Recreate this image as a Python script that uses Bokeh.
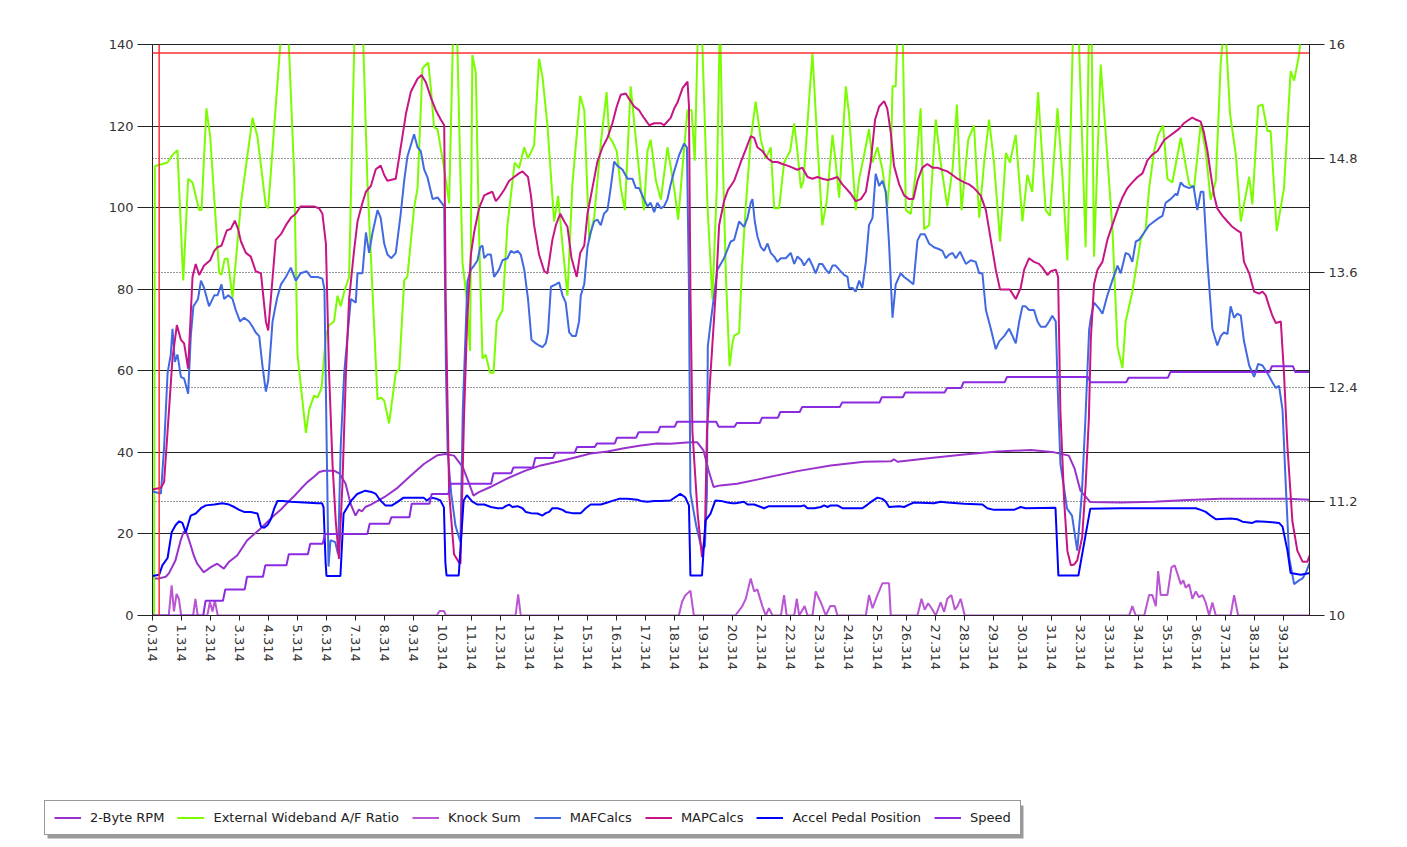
import math
from bokeh.plotting import figure
from bokeh.models import (Range1d, LinearAxis, FixedTicker, Grid, Span, Legend,
                          LegendItem, PrintfTickFormatter)
from bokeh.layouts import column
from bokeh.embed import file_html
from bokeh.resources import INLINE

# ---------------- data (time offset from first sample, value) ----------------
T0 = 0.314  # time of first log sample (s)

series_names = ["2-Byte RPM", "External Wideband A/F Ratio", "Knock Sum", "MAFCalcs",
                "MAPCalcs", "Accel Pedal Position", "Speed"]
series_colors = ["#9932CC", "#7CFC00", "#BA55D3", "#4169E1", "#C71585", "#0000FF", "#8A2BE2"]

left_ticks = [0, 20, 40, 60, 80, 100, 120, 140]
right_ticks = [10, 11.2, 12.4, 13.6, 14.8, 16]
right_labels = ["10", "11.2", "12.4", "13.6", "14.8", "16"]

rpm = [(0.00,9.1),(0.23,9.1),(0.46,9.5),(0.57,10.4),(0.79,13.5),(0.97,18.4),(1.08,20.6),(1.18,20.2),
       (1.30,17.6),(1.42,14.8),(1.54,12.7),(1.77,10.6),(2.00,11.8),(2.23,12.7),(2.46,11.5),(2.63,13.1),
       (2.92,14.7),(3.26,18.4),(3.45,19.6),(3.74,21.4),(3.97,23.0),(4.20,24.6),(4.43,26.0),(4.66,27.7),
       (4.89,29.3),(5.11,31.0),(5.34,32.7),(5.57,34.0),(5.75,35.2),(5.92,35.5),(6.26,35.5),(6.45,34.8),
       (6.66,32.3),(6.83,27.4),(7.00,24.5),(7.12,26.0),(7.22,25.5),(7.34,26.6),(7.53,27.2),(7.99,29.0),
       (8.45,31.3),(8.91,34.3),(9.37,37.2),(9.83,39.3),(10.10,39.6),(10.40,39.2),(10.70,36.4),(10.90,32.7),
       (11.07,29.4),(11.24,30.2),(11.65,31.5),(12.24,33.6),(12.82,35.4),(13.39,36.8),(13.97,37.7),
       (14.54,38.7),(15.11,39.7),(15.69,40.2),(16.26,41.0),(16.84,41.7),(17.41,42.2),(17.86,42.1),
       (18.20,42.3),(18.55,42.5),(18.78,42.5),(19.00,40.5),(19.18,35.5),(19.35,31.5),(19.58,31.9),
       (20.16,32.3),(20.97,33.5),(22.24,35.4),(23.39,36.8),(24.54,37.7),(25.46,37.8),(25.57,38.3),
       (25.69,37.7),(26.84,38.6),(27.99,39.5),(29.14,40.2),(30.29,40.6),(31.10,40.0),(31.60,39.2),
       (31.80,36.0),(32.00,30.6),(32.34,27.8),(33.39,27.7),(34.54,27.9),(35.69,28.3),(36.84,28.6),
       (37.99,28.6),(39.14,28.6),(39.92,28.4)]

afr = [(0.00,0.0),(0.08,14.72),(0.52,14.76),(0.69,14.84),(0.86,14.89),(1.06,13.52),(1.23,14.59),(1.38,14.55),
       (1.61,14.26),(1.69,14.26),(1.86,15.33),(1.99,15.03),(2.30,13.60),(2.38,13.58),(2.49,13.75),(2.59,13.75),
       (2.76,13.34),(3.05,14.33),(3.45,15.23),(3.62,15.03),(3.91,14.30),(3.99,14.28),(4.48,16.30),(4.66,16.30),
       (4.89,14.61),(5.00,12.74),(5.29,11.92),(5.40,12.16),(5.57,12.31),(5.69,12.29),(5.83,12.39),(5.98,12.94),
       (6.09,13.05),(6.26,13.09),(6.38,13.36),(6.49,13.25),(6.61,13.40),(6.78,13.56),(6.98,16.30),(7.24,16.30),
       (7.41,14.57),(7.76,12.27),(7.87,12.29),(7.99,12.26),(8.16,12.02),(8.39,12.55),(8.51,12.59),(8.68,13.52),
       (8.79,13.56),(9.02,14.28),(9.14,14.49),(9.31,15.75),(9.51,15.81),(9.60,15.54),(9.71,15.13),(9.83,15.11),
       (10.06,14.69),(10.23,14.33),(10.38,16.30),(10.49,16.30),(10.69,13.71),(10.84,13.32),(10.95,12.78),
       (11.03,15.89),(11.15,15.70),(11.26,14.02),(11.38,12.70),(11.49,12.74),(11.64,12.55),(11.76,12.55),
       (11.87,13.09),(12.07,13.21),(12.24,14.10),(12.49,14.76),(12.64,14.70),(12.82,14.92),(12.95,14.80),
       (13.16,14.94),(13.33,15.85),(13.45,15.66),(13.62,15.15),(13.85,14.14),(13.99,14.41),(14.10,14.02),
       (14.31,13.36),(14.48,14.53),(14.75,15.46),(14.89,15.31),(15.06,13.95),(15.23,14.18),(15.46,14.96),
       (15.66,15.50),(15.75,15.03),(15.86,14.98),(16.01,14.88),(16.15,14.49),(16.29,14.26),(16.49,15.56),
       (16.67,15.00),(16.84,14.49),(16.95,14.26),(17.07,14.88),(17.18,15.00),(17.36,14.57),(17.53,14.37),
       (17.76,14.92),(17.99,14.49),(18.13,14.16),(18.28,14.72),(18.45,15.31),(18.59,15.31),(18.70,14.78),
       (18.82,16.30),(18.93,16.30),(19.14,14.30),(19.31,13.32),(19.46,14.49),(19.57,16.30),(19.66,14.88),
       (19.78,13.52),(19.90,12.62),(20.00,12.86),(20.06,12.94),(20.23,12.97),(20.34,13.71),(20.46,14.30),
       (20.63,15.00),(20.80,15.40),(20.98,15.00),(21.15,14.80),(21.32,14.92),(21.44,14.28),(21.61,14.28),
       (21.78,14.76),(21.99,14.88),(22.13,15.17),(22.24,14.88),(22.36,14.49),(22.45,14.57),(22.61,15.27),
       (22.76,15.91),(22.91,15.07),(23.10,14.10),(23.25,14.35),(23.45,15.05),(23.56,14.76),(23.68,14.39),
       (23.91,15.56),(24.02,15.27),(24.25,14.26),(24.37,14.59),(24.54,14.84),(24.71,15.11),(24.83,14.76),
       (25.00,14.92),(25.17,14.69),(25.34,14.30),(25.46,14.76),(25.52,15.56),(25.63,15.56),(25.71,16.30),
       (25.86,16.30),(25.98,14.26),(26.15,14.22),(26.32,14.65),(26.49,15.33),(26.61,14.06),(26.78,14.10),
       (27.01,15.21),(27.18,14.76),(27.41,14.30),(27.59,14.69),(27.74,15.37),(27.90,14.26),(28.13,15.00),
       (28.33,15.15),(28.51,14.18),(28.68,14.76),(28.85,15.21),(29.02,14.76),(29.23,13.93),(29.43,14.86),
       (29.57,14.76),(29.77,15.05),(30.00,14.14),(30.17,14.63),(30.34,14.45),(30.54,15.50),(30.80,14.26),
       (30.95,14.20),(31.21,15.33),(31.38,14.61),(31.55,13.73),(31.76,16.30),(31.92,16.30),(32.18,13.87),
       (32.30,16.30),(32.38,16.30),(32.47,13.77),(32.70,15.79),(32.87,15.07),(33.10,14.08),(33.28,12.82),
       (33.45,12.60),(33.56,13.09),(33.79,13.40),(34.08,13.95),(34.25,14.06),(34.37,14.49),(34.54,14.88),
       (34.68,15.05),(34.85,15.15),(35.00,14.59),(35.17,14.55),(35.46,15.02),(35.75,14.53),(35.92,14.49),
       (36.15,15.17),(36.32,14.88),(36.49,14.37),(36.67,14.57),(36.84,15.81),(36.98,16.30),(37.16,15.27),
       (37.36,14.84),(37.53,14.14),(37.82,14.61),(37.93,14.32),(38.13,15.35),(38.28,15.37),(38.45,15.09),
       (38.56,15.09),(38.77,14.04),(39.02,14.49),(39.25,15.72),(39.37,15.62),(39.54,15.89),(39.66,16.30),
       (39.90,16.60)]

knock = [(0.00,0),(0.56,0),(0.66,7.4),(0.74,1.0),(0.83,5.3),(0.91,4.1),(0.99,0),(1.40,0),(1.48,4.1),(1.56,0),
         (1.89,0),(1.98,3.3),(2.07,1.0),(2.15,3.7),(2.25,0),(9.80,0),(9.90,1.1),(10.05,1.1),(10.12,0),
         (12.52,0),(12.61,5.2),(12.70,0),(18.15,0),(18.26,3.3),(18.37,4.9),(18.55,6.1),(18.67,0),(20.10,0),
         (20.27,1.6),(20.34,2.3),(20.46,4.1),(20.63,9.1),(20.75,5.9),(20.86,6.4),(21.03,2.3),(21.15,0),
         (21.26,1.8),(21.38,0),(21.67,0),(21.78,5.0),(21.87,0),(22.13,0),(22.22,4.1),(22.30,0),(22.49,2.3),
         (22.59,0),(22.76,0),(22.87,5.9),(23.05,3.2),(23.22,0),(23.37,2.3),(23.53,2.3),(23.62,0),(24.60,0),
         (24.71,5.0),(24.83,1.8),(25.00,5.0),(25.17,7.9),(25.40,7.9),(25.46,0),(26.38,0),(26.52,4.1),
         (26.63,1.4),(26.75,3.0),(26.90,1.4),(27.01,0),(27.18,3.2),(27.30,0.9),(27.41,4.1),(27.55,5.0),
         (27.67,1.4),(27.76,2.3),(27.87,4.1),(28.01,0),(33.68,0),(33.79,2.3),(33.91,0),(34.20,0),(34.37,5.0),
         (34.48,5.0),(34.60,2.3),(34.68,10.9),(34.77,5.0),(35.00,5.0),(35.14,11.8),(35.25,12.3),(35.34,10.4),
         (35.46,7.7),(35.55,8.6),(35.63,6.8),(35.75,7.7),(35.86,4.1),(35.98,5.9),(36.09,4.5),(36.21,5.0),
         (36.32,3.2),(36.44,0),(36.55,3.2),(36.67,0),(37.18,0),(37.30,5.0),(37.44,0),(39.92,0)]

maf = [(0.00,30.4),(0.29,29.9),(0.40,41.3),(0.52,59.4),(0.63,64.0),(0.69,70.3),(0.77,62.2),(0.86,64.0),
       (0.98,58.5),(1.09,58.1),(1.23,54.4),(1.32,68.5),(1.41,75.8),(1.49,76.7),(1.57,77.6),(1.67,82.1),
       (1.78,80.3),(1.95,75.8),(2.13,78.5),(2.24,78.5),(2.38,81.2),(2.47,77.6),(2.61,78.5),(2.76,77.6),
       (2.87,74.9),(3.02,72.1),(3.16,73.0),(3.33,72.1),(3.45,70.8),(3.56,69.4),(3.68,68.5),(3.79,61.3),
       (3.91,54.9),(3.99,57.6),(4.14,72.1),(4.29,77.6),(4.43,81.2),(4.60,83.0),(4.77,85.3),(4.94,82.1),
       (5.11,83.9),(5.32,84.4),(5.46,83.0),(5.69,83.0),(5.86,82.6),(5.93,80.0),(6.00,45.0),(6.07,12.0),
       (6.14,18.5),(6.30,18.0),(6.40,15.0),(6.49,41.3),(6.61,59.4),(6.84,77.6),(7.01,76.7),(7.07,83.9),
       (7.24,83.9),(7.36,93.9),(7.47,88.9),(7.59,93.9),(7.76,99.4),(7.87,97.5),(7.99,91.2),(8.10,88.5),
       (8.24,87.6),(8.39,88.9),(8.56,98.5),(8.68,106.6),(8.79,112.5),(9.02,118.0),(9.14,114.8),(9.25,113.9),
       (9.37,109.3),(9.48,107.5),(9.66,102.1),(9.83,102.5),(10.06,100.3),(10.12,60.0),(10.18,40.0),
       (10.30,30.0),(10.45,22.0),(10.55,19.6),(10.62,18.0),(10.70,50.0),(10.86,81.9),(10.98,84.8),
       (11.09,85.8),(11.21,87.1),(11.30,90.3),(11.38,90.7),(11.44,87.6),(11.55,88.5),(11.67,88.5),
       (11.78,83.0),(11.95,84.8),(12.07,87.1),(12.24,87.6),(12.36,89.4),(12.47,88.9),(12.59,89.4),
       (12.70,88.5),(12.82,84.8),(12.95,77.6),(13.07,67.6),(13.22,66.7),(13.33,66.2),(13.45,65.8),
       (13.56,66.7),(13.64,69.4),(13.74,80.6),(13.91,81.2),(14.02,81.7),(14.14,78.5),(14.25,76.7),
       (14.37,69.4),(14.48,68.5),(14.60,68.5),(14.71,72.1),(14.77,78.5),(14.89,81.2),(15.00,90.3),
       (15.11,93.9),(15.23,96.6),(15.34,97.1),(15.46,95.7),(15.57,98.5),(15.69,99.4),(15.80,104.8),
       (15.92,111.3),(16.03,110.3),(16.21,109.3),(16.38,107.1),(16.55,107.1),(16.67,104.8),(16.78,104.8),
       (16.95,102.1),(17.07,100.3),(17.18,101.2),(17.30,98.9),(17.41,101.2),(17.53,99.8),(17.64,100.3),
       (17.76,102.1),(17.87,105.7),(17.99,108.9),(18.16,112.9),(18.33,115.7),(18.43,114.8),(18.50,80.0),
       (18.55,30.0),(18.75,22.0),(18.95,16.0),(19.05,17.0),(19.12,30.0),(19.15,66.0),(19.25,72.0),
       (19.48,84.8),(19.71,87.6),(19.94,91.7),(20.06,92.1),(20.23,96.6),(20.40,95.3),(20.52,97.5),
       (20.63,101.2),(20.69,102.1),(20.77,96.6),(20.86,93.0),(20.98,90.3),(21.09,89.4),(21.21,91.2),
       (21.32,88.9),(21.44,88.0),(21.55,86.7),(21.67,87.6),(21.84,87.6),(22.01,88.9),(22.13,86.2),
       (22.24,88.0),(22.38,87.1),(22.47,85.8),(22.64,87.6),(22.76,85.8),(22.87,83.9),(22.99,86.2),
       (23.10,86.2),(23.22,84.8),(23.33,83.9),(23.45,85.8),(23.56,85.8),(23.68,84.8),(23.85,83.5),
       (23.97,83.0),(24.02,80.3),(24.14,80.3),(24.25,79.4),(24.37,82.1),(24.48,80.3),(24.60,86.7),
       (24.71,95.7),(24.83,97.5),(24.94,108.3),(25.06,105.3),(25.17,106.6),(25.29,103.9),(25.40,91.2),
       (25.52,73.0),(25.63,81.2),(25.80,83.9),(25.92,83.0),(26.09,82.1),(26.24,81.2),(26.38,91.9),
       (26.49,93.5),(26.63,93.5),(26.78,91.2),(26.95,90.3),(27.13,89.8),(27.24,89.4),(27.36,87.6),
       (27.47,88.5),(27.59,88.9),(27.70,87.6),(27.85,89.2),(27.93,88.0),(28.05,86.2),(28.22,87.1),
       (28.39,86.7),(28.51,83.9),(28.62,83.9),(28.74,74.9),(28.91,70.3),(29.08,65.3),(29.20,67.2),
       (29.37,68.5),(29.54,70.3),(29.66,68.5),(29.77,66.7),(29.89,72.1),(30.00,75.8),(30.11,75.8),
       (30.23,74.9),(30.40,74.9),(30.52,72.1),(30.63,70.8),(30.80,70.8),(30.92,72.1),(31.03,73.5),
       (31.15,72.1),(31.22,55.0),(31.31,37.2),(31.54,26.2),(31.71,24.5),(31.89,15.9),(32.05,30.0),
       (32.17,47.8),(32.30,70.0),(32.36,73.0),(32.47,76.7),(32.64,75.3),(32.76,74.0),(32.93,78.5),
       (33.10,82.1),(33.28,85.8),(33.39,83.9),(33.56,88.9),(33.68,88.5),(33.79,86.7),(33.91,91.7),
       (34.02,92.1),(34.20,93.9),(34.37,95.7),(34.54,96.6),(34.71,97.5),(34.83,98.0),(34.94,101.2),
       (35.11,102.1),(35.29,103.4),(35.34,103.0),(35.46,106.2),(35.57,105.3),(35.75,104.8),(35.90,105.3),
       (36.03,99.4),(36.15,103.9),(36.24,103.9),(36.38,86.7),(36.55,70.3),(36.72,66.2),(36.84,68.5),
       (36.95,69.4),(37.07,69.0),(37.18,75.8),(37.30,73.0),(37.41,74.0),(37.53,73.5),(37.64,67.3),
       (37.82,61.3),(37.99,58.5),(38.13,61.7),(38.28,61.3),(38.45,59.4),(38.62,57.2),(38.74,55.8),
       (38.85,56.3),(38.97,50.4),(39.08,32.2),(39.20,14.1),(39.37,7.7),(39.54,8.6),(39.66,9.1),
       (39.77,10.4),(39.92,13.2)]

map_kpa = [(0.00,30.9),(0.29,31.3),(0.40,32.7),(0.57,50.4),(0.69,63.1),(0.84,71.2),(0.98,67.6),(1.09,66.7),
       (1.23,60.5),(1.38,83.0),(1.49,86.2),(1.61,83.5),(1.78,85.8),(1.99,87.1),(2.13,89.4),(2.24,90.3),
       (2.38,90.7),(2.56,94.4),(2.70,94.8),(2.84,96.8),(2.95,94.8),(3.05,91.7),(3.22,88.9),(3.39,88.0),
       (3.56,84.4),(3.74,83.9),(3.91,72.1),(3.99,69.9),(4.25,92.1),(4.43,93.5),(4.60,95.7),(4.77,97.5),
       (4.94,98.5),(5.11,100.3),(5.34,100.3),(5.57,100.3),(5.75,99.8),(5.86,98.5),(5.98,91.2),(6.09,59.4),
       (6.21,36.8),(6.32,23.1),(6.43,13.9),(6.55,32.2),(6.67,59.4),(6.78,77.6),(6.95,89.4),(7.07,96.6),
       (7.24,101.2),(7.36,103.9),(7.53,105.3),(7.70,109.4),(7.87,110.3),(7.99,108.0),(8.10,106.6),
       (8.39,107.1),(8.56,114.8),(8.74,123.0),(8.91,128.4),(9.14,131.6),(9.28,132.5),(9.43,130.7),
       (9.60,127.0),(9.77,123.9),(9.94,121.6),(10.06,120.2),(10.11,77.6),(10.23,30.0),(10.40,15.0),
       (10.57,13.0),(10.62,12.7),(10.74,47.8),(10.85,72.0),(10.98,88.5),(11.09,93.9),(11.26,99.8),
       (11.44,103.0),(11.55,103.4),(11.72,103.9),(11.84,101.6),(11.95,102.5),(12.13,104.4),(12.30,106.6),
       (12.47,107.5),(12.64,108.4),(12.76,108.9),(12.95,107.5),(13.05,103.0),(13.16,95.7),(13.33,88.5),
       (13.51,84.4),(13.62,83.9),(13.79,92.1),(13.91,95.7),(14.06,98.5),(14.20,96.6),(14.31,95.3),
       (14.45,87.6),(14.63,83.0),(14.75,88.9),(14.89,90.7),(15.00,98.5),(15.17,104.8),(15.34,111.2),
       (15.52,114.8),(15.69,117.1),(15.86,120.7),(16.01,124.8),(16.15,127.7),(16.32,128.0),(16.44,126.6),
       (16.61,124.8),(16.78,123.9),(16.95,122.0),(17.13,120.2),(17.30,120.7),(17.53,120.7),(17.64,120.2),
       (17.87,122.0),(17.99,124.3),(18.10,125.7),(18.28,129.3),(18.45,130.9),(18.50,125.0),(18.55,80.0),
       (18.62,45.0),(18.80,25.0),(18.95,14.3),(19.05,20.0),(19.12,45.0),(19.25,60.0),(19.43,80.0),
       (19.54,95.7),(19.71,101.6),(19.85,104.4),(19.94,105.3),(20.06,106.6),(20.29,111.2),(20.46,114.3),
       (20.63,117.5),(20.75,117.1),(20.86,114.8),(21.03,113.9),(21.21,112.1),(21.38,111.2),(21.55,111.2),
       (21.72,110.7),(21.90,110.3),(22.07,109.8),(22.24,109.3),(22.41,109.8),(22.59,107.5),(22.76,107.1),
       (22.93,107.5),(23.10,107.1),(23.28,106.8),(23.45,107.1),(23.62,107.5),(23.79,105.7),(23.91,104.8),
       (24.08,103.4),(24.25,101.6),(24.43,102.1),(24.60,103.9),(24.77,111.2),(24.92,121.6),(25.06,124.8),
       (25.23,126.1),(25.34,124.3),(25.46,118.4),(25.57,110.3),(25.75,105.7),(25.92,103.0),(26.09,102.1),
       (26.24,102.1),(26.38,106.6),(26.55,109.8),(26.72,110.7),(26.90,109.8),(27.07,109.8),(27.24,109.3),
       (27.41,108.9),(27.59,108.0),(27.76,107.1),(27.99,106.2),(28.16,105.7),(28.33,104.8),(28.56,103.0),
       (28.74,99.4),(28.91,92.1),(29.08,84.8),(29.23,79.9),(29.37,79.9),(29.57,79.9),(29.77,77.6),
       (29.94,80.3),(30.06,84.8),(30.23,87.6),(30.40,86.7),(30.57,86.2),(30.69,85.3),(30.86,83.5),
       (30.98,84.4),(31.15,84.8),(31.23,83.0),(31.31,50.0),(31.44,28.0),(31.55,15.9),(31.67,12.3),
       (31.78,12.5),(31.89,13.5),(32.06,19.2),(32.18,32.0),(32.29,48.0),(32.36,68.0),(32.47,81.2),
       (32.59,84.8),(32.76,86.7),(32.93,92.1),(33.10,95.7),(33.28,99.4),(33.45,102.5),(33.62,104.8),
       (33.79,106.2),(33.97,107.5),(34.14,108.4),(34.31,111.6),(34.48,113.0),(34.66,113.9),(34.77,115.2),
       (34.89,116.6),(35.06,117.5),(35.23,118.4),(35.40,119.3),(35.57,120.7),(35.75,121.6),(35.86,122.1),
       (35.98,121.6),(36.15,121.1),(36.26,118.4),(36.38,113.9),(36.49,108.4),(36.61,103.0),(36.72,99.8),
       (36.90,98.0),(37.07,96.6),(37.24,95.3),(37.41,94.4),(37.53,93.9),(37.64,86.7),(37.82,83.9),
       (37.99,79.4),(38.16,78.9),(38.28,79.4),(38.39,78.5),(38.51,75.8),(38.62,73.5),(38.74,71.7),
       (38.91,72.1),(39.02,59.4),(39.14,41.3),(39.31,23.1),(39.48,15.9),(39.66,13.2),(39.83,13.2),
       (39.92,15.0)]

accel = [(0.00,9.7),(0.23,10.0),(0.34,12.3),(0.52,14.1),(0.66,20.4),(0.80,22.2),(0.92,23.1),(1.03,22.7),
         (1.15,20.4),(1.26,23.1),(1.32,24.5),(1.49,25.0),(1.67,26.3),(1.84,27.0),(2.13,27.2),(2.41,27.5),
         (2.64,27.2),(2.82,26.6),(2.99,25.9),(3.16,25.4),(3.39,25.4),(3.62,25.0),(3.74,21.8),(3.85,21.5),
         (3.97,22.2),(4.08,23.6),(4.20,26.3),(4.31,28.1),(4.48,28.1),(4.77,27.9),(5.23,27.7),(5.69,27.5),
         (5.85,27.5),(5.90,26.5),(5.97,13.0),(6.00,9.7),(6.48,9.7),(6.59,25.0),(6.70,26.3),(6.86,28.2),
         (7.06,29.8),(7.34,30.6),(7.55,30.3),(7.70,29.8),(7.86,28.2),(8.03,27.0),(8.26,27.0),(8.44,27.8),
         (8.66,28.9),(9.35,28.9),(9.46,28.2),(9.60,28.9),(9.80,28.6),(9.93,28.2),(10.05,26.5),(10.10,13.0),
         (10.14,9.8),(10.56,9.8),(10.73,28.2),(10.84,29.5),(11.03,27.9),(11.21,27.2),(11.44,27.2),
         (11.67,26.6),(11.90,26.3),(12.07,26.3),(12.18,26.8),(12.30,27.2),(12.41,26.6),(12.59,26.8),
         (12.76,26.3),(12.87,25.4),(13.05,25.1),(13.28,25.0),(13.45,24.5),(13.56,25.1),(13.68,25.4),
         (13.79,26.3),(13.97,26.3),(14.14,25.9),(14.25,25.4),(14.48,25.1),(14.77,25.1),(14.94,26.3),
         (15.11,27.2),(15.46,27.2),(15.69,27.7),(15.86,28.1),(16.09,28.6),(16.38,28.6),(16.72,28.4),
         (16.84,28.1),(17.07,27.9),(17.30,28.1),(17.53,28.1),(17.86,28.2),(18.20,29.8),(18.37,29.0),
         (18.50,27.0),(18.55,9.8),(18.95,9.8),(19.07,23.3),(19.24,24.9),(19.41,28.2),(19.60,28.1),
         (19.83,27.7),(20.00,27.5),(20.11,27.5),(20.40,27.9),(20.52,27.2),(20.75,27.2),(20.98,26.6),
         (21.09,26.3),(21.26,26.8),(21.84,26.8),(22.36,26.8),(22.47,27.0),(22.59,26.3),(22.82,26.3),
         (23.05,26.6),(23.16,27.0),(23.28,26.6),(23.39,27.0),(23.62,27.0),(23.79,26.3),(24.48,26.3),
         (24.66,27.2),(24.83,28.1),(25.00,28.9),(25.17,28.6),(25.29,27.9),(25.40,26.6),(25.75,26.8),
         (25.92,26.6),(26.09,27.2),(26.26,27.7),(26.95,27.5),(27.18,27.9),(27.41,27.7),(27.99,27.4),
         (28.62,27.2),(28.79,26.3),(29.02,25.9),(29.71,25.9),(29.94,26.6),(30.11,26.3),(31.14,26.4),
         (31.24,9.8),(31.93,9.8),(32.34,26.2),(33.39,26.3),(35.98,26.3),(36.15,25.9),(36.32,25.4),
         (36.49,24.5),(36.67,23.6),(37.18,23.8),(37.41,23.6),(37.59,23.0),(37.93,22.7),(38.05,23.1),
         (38.39,23.0),(38.85,22.7),(38.97,21.8),(39.14,15.9),(39.25,10.4),(39.60,10.0),(39.92,10.4)]

speed = [(0.00,0),(1.75,0),(1.83,3.6),(2.43,3.6),(2.51,6.4),(3.18,6.4),(3.26,9.5),(3.81,9.5),(3.89,12.3),
         (4.62,12.3),(4.70,15.0),(5.36,15.0),(5.44,17.6),(5.87,17.6),(5.95,20.0),(7.41,20.0),(7.49,22.5),
         (8.16,22.5),(8.24,24.1),(8.86,24.1),(8.94,27.4),(9.55,27.4),(9.63,29.8),(10.20,29.8),(10.28,32.3),
         (11.68,32.3),(11.76,34.9),(12.37,34.9),(12.45,36.3),(13.12,36.3),(13.20,38.6),(13.81,38.6),
         (13.89,39.9),(14.56,39.9),(14.64,41.3),(15.25,41.3),(15.33,42.2),(15.94,42.2),(16.02,43.6),
         (16.68,43.6),(16.76,44.9),(17.43,44.9),(17.51,46.3),(18.01,46.3),(18.09,47.5),(19.44,47.5),
         (19.52,46.3),(20.07,46.3),(20.15,47.2),(20.94,47.2),(21.02,48.5),(21.57,48.5),(21.65,49.9),
         (22.32,49.9),(22.40,51.1),(23.70,51.1),(23.78,52.2),(25.07,52.2),(25.15,53.5),(25.88,53.5),
         (25.96,54.7),(27.32,54.7),(27.40,55.8),(27.89,55.8),(27.97,57.2),(29.39,57.2),(29.47,58.5),
         (32.26,58.5),(32.34,57.2),(33.58,57.2),(33.66,58.3),(35.02,58.3),(35.10,59.7),(38.52,59.7),
         (38.60,61.1),(39.33,61.1),(39.41,59.7),(39.92,59.7)]

cursor_time = 0.23 + T0     # red cursor line
alarm_level = 137.9         # red limit line (left axis units)

series_data = [rpm, afr, knock, maf, map_kpa, accel, speed]
series_axis = ["default", "af", "default", "default", "default", "default", "default"]

FONT = "DejaVu Sans"

# ---------------- chart ----------------
p = figure(width=1400, height=680, x_range=Range1d(T0, T0 + 39.9), y_range=Range1d(0, 140),
           toolbar_location=None, output_backend="svg",
           min_border_left=152, min_border_right=91, min_border_top=44, min_border_bottom=65)
p.extra_y_ranges = {"af": Range1d(10, 16)}
p.background_fill_color = "white"
p.border_fill_color = "white"
p.outline_line_color = "#222222"
p.outline_line_width = 1

xa = p.xaxis[0]
xa.ticker = FixedTicker(ticks=[T0 + k for k in range(40)])
xa.formatter = PrintfTickFormatter(format="%.3f")
xa.major_label_orientation = -math.pi / 2
xa.major_tick_out = 5
xa.major_tick_in = 0
xa.minor_tick_line_color = None
xa.major_label_standoff = 4

ya = p.yaxis[0]
ya.ticker = FixedTicker(ticks=left_ticks)
ya.major_tick_out = 15
ya.major_tick_in = 0
ya.minor_tick_line_color = None
ya.major_label_standoff = 4

ra = LinearAxis(y_range_name="af", ticker=FixedTicker(ticks=right_ticks))
ra.major_label_overrides = {t: l for t, l in zip(right_ticks, right_labels)}
ra.major_tick_out = 15
ra.major_tick_in = 0
ra.minor_tick_line_color = None
ra.major_label_standoff = 4
p.add_layout(ra, "right")

for ax in [xa, ya, ra]:
    ax.axis_line_color = "#222222"
    ax.major_tick_line_color = "#222222"
    ax.major_label_text_font = FONT
    ax.major_label_text_font_size = "13px"
    ax.major_label_text_color = "#333333"

p.xgrid.visible = False
p.ygrid.grid_line_color = "#222222"
p.ygrid.grid_line_width = 1

dot_grid = Grid(dimension=1, ticker=FixedTicker(ticks=right_ticks[1:-1]), y_range_name="af",
                grid_line_color="#333333", grid_line_dash="1 2", grid_line_width=1)
p.add_layout(dot_grid)

for name, data, color, yr in zip(series_names, series_data, series_colors, series_axis):
    xs = [T0 + d[0] for d in data]
    ys = [d[1] for d in data]
    p.line(xs, ys, line_color=color, line_width=2, y_range_name=yr)

p.add_layout(Span(location=cursor_time, dimension="height", line_color="#ff3030", line_width=1.5))
p.add_layout(Span(location=alarm_level, dimension="width", line_color="#ff3030", line_width=1.5))

# ---------------- legend strip (own canvas under the chart, pixel units) ----------------
LW, LH = 1400, 165
lg = figure(width=LW, height=LH, x_range=Range1d(0, LW), y_range=Range1d(0, LH),
            toolbar_location=None, output_backend="svg", min_border=0,
            x_axis_type=None, y_axis_type=None)
lg.grid.visible = False
lg.outline_line_color = None
lg.background_fill_color = "white"
lg.border_fill_color = "white"

# do not align the strip's frame with the chart's frame
for fig in (p, lg):
    try:
        fig.frame_align = False
    except Exception:
        pass

box_x, box_y, box_w, box_h = 44, 10, 976, 33   # legend frame position in the strip
lg.quad(left=[box_x + 3], right=[box_x + box_w + 3], bottom=[box_y - 3], top=[box_y + box_h - 3],
        fill_color="#9a9a9a", line_color=None)

items = []
for name, color in zip(series_names, series_colors):
    # legend swatch renderers: parked outside the strip's visible range
    r = lg.line(x=[-20, -10], y=[-20, -20], line_color=color, line_width=2)
    items.append(LegendItem(label=name, renderers=[r]))

legend = Legend(items=items, orientation="horizontal", location=(box_x, box_y),
                glyph_width=27, glyph_height=15, label_height=15, label_standoff=9,
                spacing=13, padding=9, margin=0,
                border_line_color="#333333", border_line_width=1,
                background_fill_color="white", background_fill_alpha=1.0,
                label_text_font=FONT, label_text_font_size="13px", label_text_color="#222222")
lg.add_layout(legend)

layout = column(p, lg, spacing=0)
open("out.html", "w").write(file_html(layout, INLINE))
